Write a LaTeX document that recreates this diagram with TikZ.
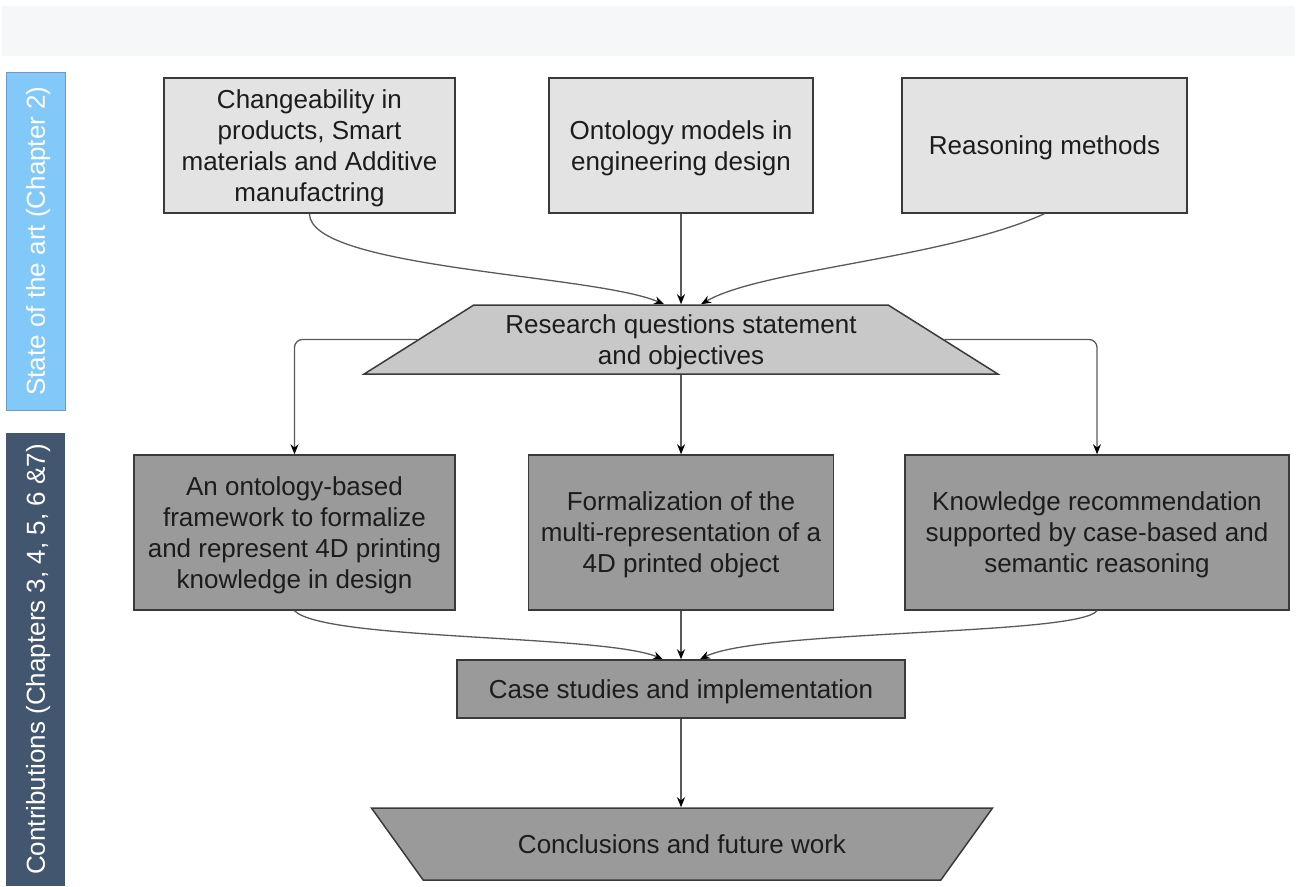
\documentclass[tikz,border=0pt]{standalone}
\usepackage{fontspec}
\setmainfont{Liberation Sans}
\usetikzlibrary{arrows.meta,positioning,shapes.geometric}
\definecolor{stripgray}{HTML}{F6F7F9}
\definecolor{statebar}{HTML}{82C9F9}
\definecolor{statebarline}{HTML}{6C9BC8}
\definecolor{contribbar}{HTML}{43566F}
\definecolor{litfill}{HTML}{E3E3E3}
\definecolor{rqfill}{HTML}{C8C8C8}
\definecolor{contribfill}{HTML}{9A9A9A}
\definecolor{boxline}{HTML}{3A3A3A}
\definecolor{linkgray}{HTML}{5A5A5A}
\definecolor{textdark}{HTML}{1C1C1C}
\tikzset{
    %Define standard arrow tip
    >={Stealth[length=10pt,width=8pt,color=black]},
    %Define style for boxes
    litbox/.style={
           rectangle,
           draw=boxline, line width=1.5pt,
           fill=litfill,
           align=center,
           text=textdark,
           inner sep=0pt,
           text depth=-1.5pt,
           font=\fontsize{26}{31}\selectfont},
    contribbox/.style={
           litbox,
           fill=contribfill},
    funnel/.style={
           trapezium,
           trapezium stretches=true,
           draw=boxline, line width=1.5pt,
           align=center,
           text=textdark,
           inner sep=0pt,
           text depth=-1.5pt,
           font=\fontsize{26}{31}\selectfont},
    sidebar/.style={
           rectangle,
           rotate=90,
           text=white,
           inner sep=0pt,
           text depth=-1.5pt,
           font=\fontsize{26}{31}\selectfont},
    % Define arrow style
    link/.style={
           ->,
           draw=linkgray,
           line width=1.3pt},
}
\begin{document}
\begin{tikzpicture}[x=1pt,y=-1pt]
\useasboundingbox (0,0) rectangle (1297,886);
\fill[stripgray] (2,6) rectangle (1295,56);
% side bars
\node[sidebar, fill=statebar, draw=statebarline, line width=1pt, minimum width=338pt, minimum height=59pt] (state) at (35.5,241) {State of the art (Chapter 2)};
\node[sidebar, fill=contribbar, minimum width=453pt, minimum height=59pt] (contrib) at (35.5,659.5) {Contributions (Chapters 3, 4, 5, 6 \&7)};
% state of the art
\node[litbox, minimum width=291pt, minimum height=135pt] (change) at (309.5,145.5) {Changeability in\\products, Smart\\materials and Additive\\manufactring};
\node[litbox, minimum width=264pt, minimum height=135pt] (onto) at (681,145.5) {Ontology models in\\engineering design};
\node[litbox, minimum width=285pt, minimum height=135pt] (reason) at (1044.5,145.5) {Reasoning methods};
\node[funnel, fill=rqfill, trapezium angle=28.2, minimum width=639pt, minimum height=69pt] (rq) at (681,339.5) {Research questions statement\\and objectives};
% contributions
\node[contribbox, minimum width=321pt, minimum height=155pt] (frame) at (294.5,532.5) {An ontology-based\\framework to formalize\\and represent 4D printing\\knowledge in design};
\node[contribbox, minimum width=305pt, minimum height=155pt] (multi) at (681,532.5) {Formalization of the\\multi-representation of a\\4D printed object};
\node[contribbox, minimum width=384pt, minimum height=155pt] (recom) at (1097,532.5) {Knowledge recommendation\\supported by case-based and\\semantic reasoning};
\node[contribbox, minimum width=448pt, minimum height=58pt] (case) at (681,689) {Case studies and implementation};
\node[funnel, fill=contribfill, shape border rotate=180, trapezium angle=29.9, minimum width=623pt, minimum height=72pt] (concl) at (682,844) {Conclusions and future work};
% links
\draw[link] (change.south) .. controls +(0,55) and +(-70,-30) .. ([xshift=-17pt]rq.north);
\draw[link] (onto.south) -- (onto.south |- rq.north);
\draw[link] (reason.south) .. controls +(-100,45) and +(60,-35) .. ([xshift=20pt]rq.north);
\draw[link, rounded corners=8pt] (rq.west) -| (frame.north);
\draw[link] (rq.south) -- (rq.south |- multi.north);
\draw[link, rounded corners=8pt] (rq.east) -| (recom.north);
\draw[link] (frame.south) .. controls +(30,30) and +(-60,-25) .. ([xshift=-18pt]case.north);
\draw[link] (multi.south) -- (multi.south |- case.north);
\draw[link] (recom.south) .. controls +(-20,25) and +(60,-30) .. ([xshift=19pt]case.north);
\draw[link] (case.south) -- (case.south |- concl.north);
\end{tikzpicture}
\end{document}
